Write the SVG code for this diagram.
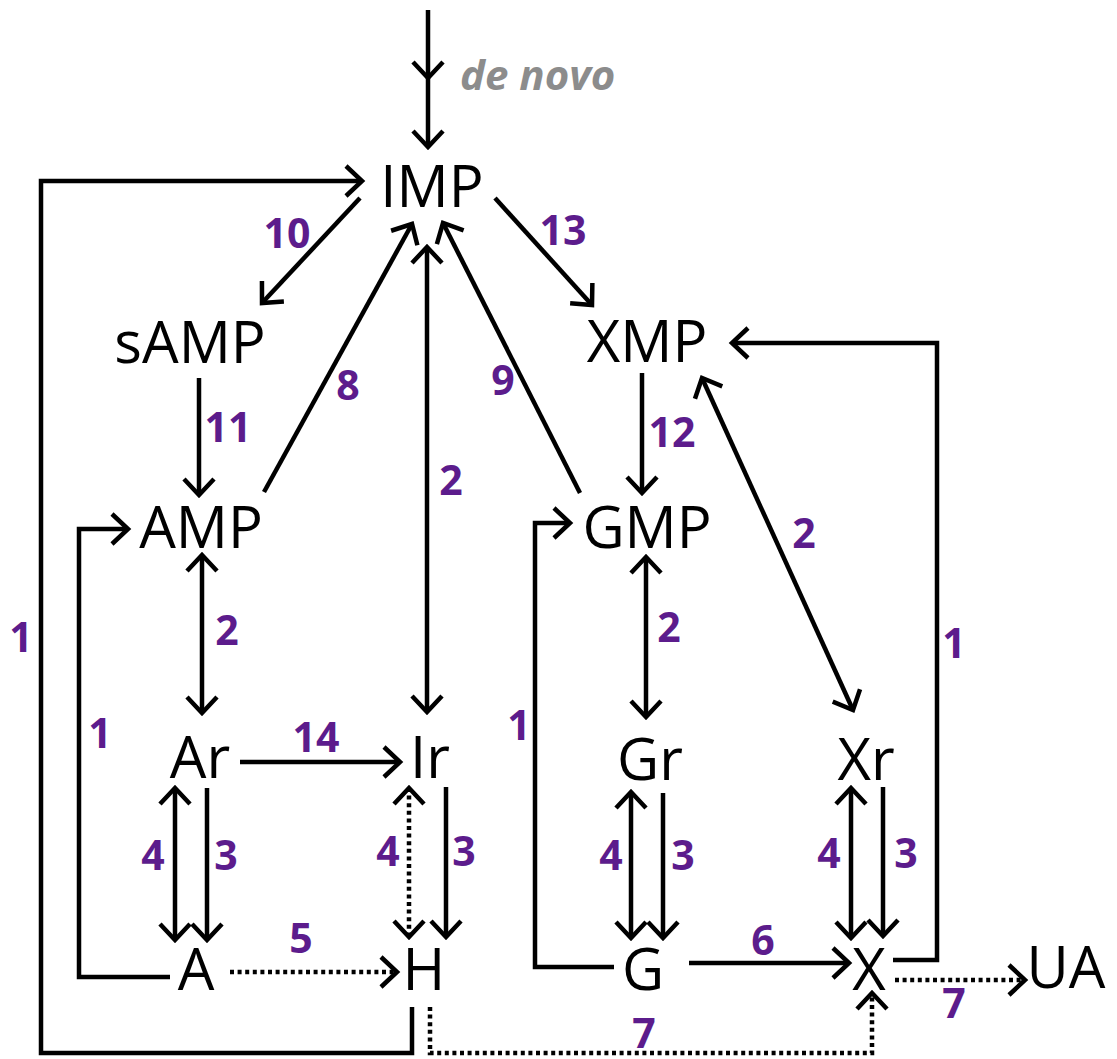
<svg xmlns="http://www.w3.org/2000/svg" width="1117" height="1059" viewBox="0 0 1117 1059">
<style>
.node{font-family:"Open Sans","Liberation Sans",sans-serif;font-size:58px;fill:#000;text-anchor:middle}
.lbl{font-family:"Open Sans","Liberation Sans",sans-serif;font-size:41px;font-weight:bold;fill:#5c1c8c;text-anchor:middle}
.dn{font-family:"Open Sans","Liberation Sans",sans-serif;font-size:42px;font-weight:bold;font-style:italic;fill:#8c8c8c}
.c{fill:none;stroke:#000;stroke-width:4.5;marker-end:url(#ah)}
.b{marker-start:url(#ah)}
.d{stroke-dasharray:4 3.6}
</style>
<defs>
<marker id="ah" markerUnits="userSpaceOnUse" viewBox="-20 -20 40 40" markerWidth="40" markerHeight="40" refX="0" refY="0" orient="auto-start-reverse">
<path d="M-16,-15 L0,0 L-16,15" fill="none" stroke="#000" stroke-width="4.5"/>
</marker>
</defs>
<g id="connectors">
<path class="c" d="M428,10 V78"/>
<path class="c" d="M428,78 V147"/>
<path class="c" d="M412,1007 V1053 H41 V181 H362"/>
<path class="c" d="M170,977 H79 V529 H128"/>
<path class="c" d="M614,967 H535 V523 H570"/>
<path class="c" d="M893,960 H937 V343 H732"/>
<path class="c" d="M360,198 L262,303"/>
<path class="c" d="M199,378 V495"/>
<path class="c" d="M264,492 L412,224"/>
<path class="c b" d="M427,712 V247"/>
<path class="c" d="M580,493 L443,223"/>
<path class="c" d="M495,198 L592,305"/>
<path class="c" d="M642,373 V493"/>
<path class="c b" d="M702,378 L853,710"/>
<path class="c b" d="M202,555 V713"/>
<path class="c b" d="M646,557 V717"/>
<path class="c" d="M240,762 H400"/>
<path class="c b" d="M175,788 V940"/>
<path class="c" d="M207,788 V940"/>
<path class="c b d" d="M409,788 V937"/>
<path class="c" d="M446,787 V937"/>
<path class="c d" d="M230,972 H397"/>
<path class="c b" d="M631,792 V938"/>
<path class="c" d="M663,793 V938"/>
<path class="c b" d="M851,788 V938"/>
<path class="c" d="M883,787 V936"/>
<path class="c" d="M689,963 H849"/>
<path class="c d" d="M895,980 H1025"/>
<path class="c d" d="M430,1007 V1053 H872 V993"/>
</g>
<g id="labels">
<text class="dn" x="460" y="90">de novo</text>
<text class="lbl" x="287" y="248">10</text>
<text class="lbl" x="563" y="245">13</text>
<text class="lbl" x="348" y="400">8</text>
<text class="lbl" x="228" y="442">11</text>
<text class="lbl" x="503" y="395">9</text>
<text class="lbl" x="451" y="495">2</text>
<text class="lbl" x="672" y="447">12</text>
<text class="lbl" x="804" y="548">2</text>
<text class="lbl" x="669" y="642">2</text>
<text class="lbl" x="954" y="658">1</text>
<text class="lbl" x="227" y="645">2</text>
<text class="lbl" x="21" y="652">1</text>
<text class="lbl" x="100" y="748">1</text>
<text class="lbl" x="519" y="740">1</text>
<text class="lbl" x="316" y="752">14</text>
<text class="lbl" x="153" y="870">4</text>
<text class="lbl" x="226" y="870">3</text>
<text class="lbl" x="388" y="866">4</text>
<text class="lbl" x="464" y="866">3</text>
<text class="lbl" x="301" y="953">5</text>
<text class="lbl" x="611" y="870">4</text>
<text class="lbl" x="683" y="870">3</text>
<text class="lbl" x="829" y="868">4</text>
<text class="lbl" x="906" y="868">3</text>
<text class="lbl" x="763" y="955">6</text>
<text class="lbl" x="954" y="1018">7</text>
<text class="lbl" x="644" y="1048">7</text>
</g>
<g id="IMP"><text class="node" x="432" y="207">IMP</text></g>
<g id="sAMP"><text class="node" x="190" y="363">sAMP</text></g>
<g id="AMP"><text class="node" x="201" y="548">AMP</text></g>
<g id="XMP"><text class="node" x="647" y="362">XMP</text></g>
<g id="GMP"><text class="node" x="647" y="548">GMP</text></g>
<g id="Ar"><text class="node" x="200" y="778">Ar</text></g>
<g id="Ir"><text class="node" x="430" y="778">Ir</text></g>
<g id="A"><text class="node" x="196" y="990">A</text></g>
<g id="H"><text class="node" x="424" y="990">H</text></g>
<g id="Gr"><text class="node" x="650" y="780">Gr</text></g>
<g id="Xr"><text class="node" x="866" y="780">Xr</text></g>
<g id="G"><text class="node" x="643" y="990">G</text></g>
<g id="X"><text class="node" x="869" y="990">X</text></g>
<g id="UA"><text class="node" x="1066" y="988">UA</text></g>
</svg>
